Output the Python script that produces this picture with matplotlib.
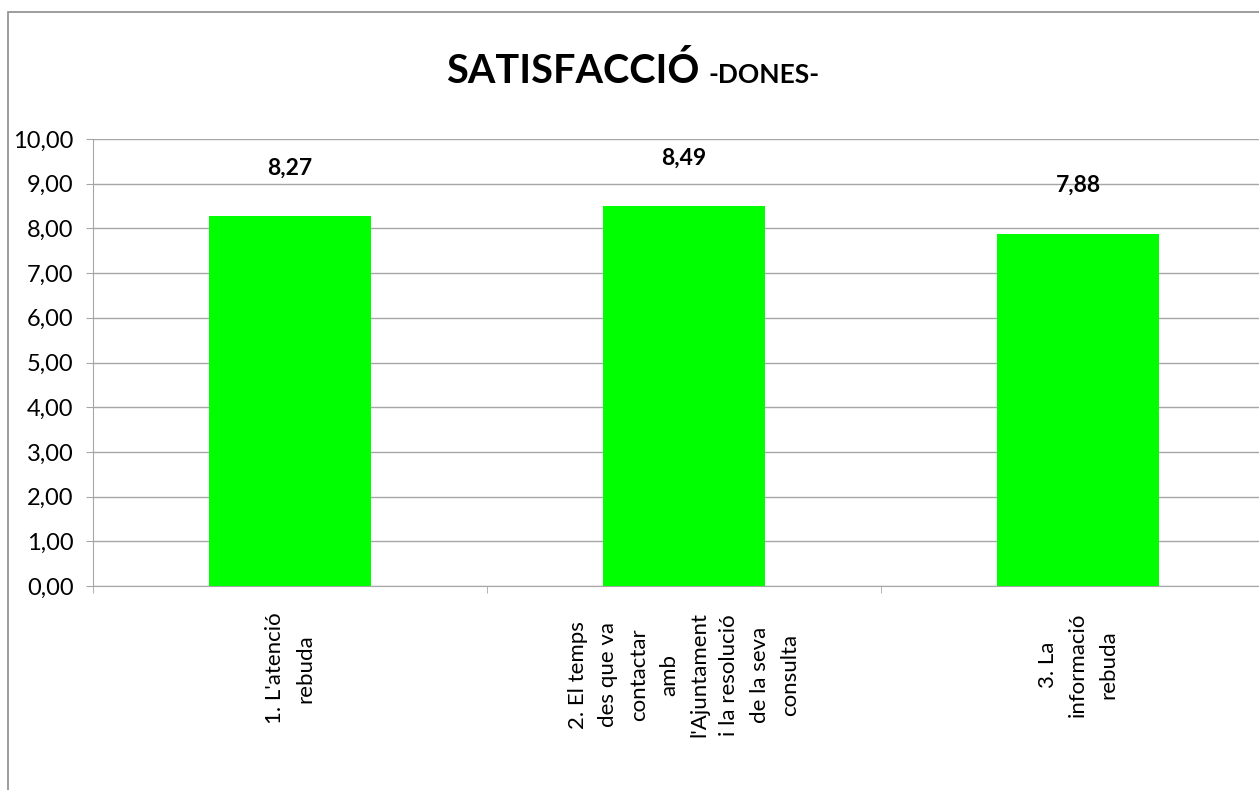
import matplotlib.pyplot as plt
from matplotlib.patches import Rectangle

categories = ["1. L'atenció\nrebuda",
              "2. El temps\ndes que va\ncontactar\namb\nl'Ajuntament\ni la resolució\nde la seva\nconsulta",
              "3. La\ninformació\nrebuda"]
values = [8.27, 8.49, 7.88]
yticks = [0, 1, 2, 3, 4, 5, 6, 7, 8, 9, 10]

W, H = 1259, 790
fig = plt.figure(figsize=(W / 100, H / 100), dpi=100)

# outer chart border (right/bottom fall outside the picture)
fig.patches.append(Rectangle((8 / W, -0.2), 1.2, 0.2 + (H - 12) / H, transform=fig.transFigure,
                             fill=False, edgecolor='#8c8c8c', linewidth=1.2))

ax = fig.add_axes([93 / W, 204 / H, 1182 / W, 447 / H])
x = list(range(len(values)))
ax.bar(x, values, width=0.41, color='#00FF00', zorder=3)
ax.set_xlim(-0.5, 2.5)
ax.set_ylim(0, 10)

ax.set_yticks(yticks)
ax.set_yticklabels([f"{v:.2f}".replace('.', ',') for v in yticks], fontsize=17, family='Lato')
ax.yaxis.grid(True, color='#a6a6a6', linewidth=1)
ax.set_axisbelow(True)
ax.tick_params(axis='y', length=5, color='#a6a6a6', pad=9)

ax.set_xticks(x)
ax.set_xticklabels(categories, rotation=90, fontsize=16, linespacing=1.64, family='Lato',
                   ha='center', va='top', multialignment='center')
ax.tick_params(axis='x', which='major', length=0, pad=19)
ax.set_xticks([-0.5, 0.5, 1.5, 2.5], minor=True)
ax.tick_params(axis='x', which='minor', length=5, color='#a6a6a6')

for s in ['top', 'right']:
    ax.spines[s].set_visible(False)
for s in ['left', 'bottom']:
    ax.spines[s].set_color('#a6a6a6')

for xi, v in zip(x, values):
    ax.annotate(f"{v:.2f}".replace('.', ','), (xi, v), xytext=(0, 35), textcoords='offset points',
                ha='center', va='center', fontsize=16.5, fontweight='bold', family='Lato')

fig.text(699 / W, 1 - 83 / H, "SATISFACCIÓ", ha='right', va='baseline',
         fontsize=28.5, fontweight='bold', family='Lato')
fig.text(709 / W, 1 - 83 / H, "-DONES-", ha='left', va='baseline',
         fontsize=19, fontweight='bold', family='Lato')

fig.savefig('out.png', dpi=100)
